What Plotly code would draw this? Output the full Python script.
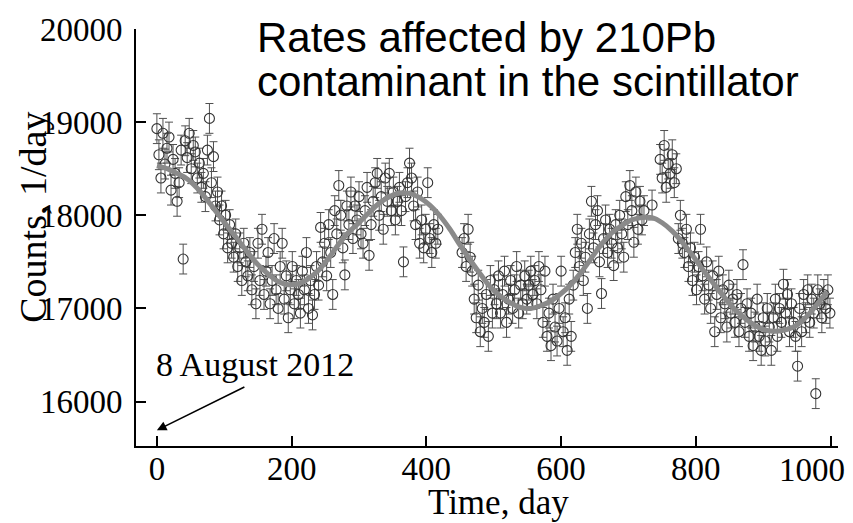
import plotly.graph_objects as go

days = [0, 3, 6, 9, 12, 15, 18, 21, 24, 27, 30, 33, 36, 39, 42, 45, 48, 51, 54, 57,
        60, 63, 66, 69, 72, 75, 78, 81, 84, 87, 90, 93, 96, 99, 102, 105, 108, 111, 114, 117,
        120, 123, 126, 129, 132, 135, 138, 141, 144, 147, 150, 153, 156, 159, 162, 165, 168, 171, 174, 177,
        180, 183, 186, 189, 192, 195, 198, 201, 204, 207, 210, 213, 216, 219, 222, 225, 228, 231, 234, 237,
        240, 243, 246, 249, 252, 255, 258, 261, 264, 267, 270, 273, 276, 279, 282, 285, 288, 291, 294, 297,
        300, 303, 306, 309, 312, 315, 318, 321, 324, 327, 330, 333, 336, 339, 342, 345, 348, 351, 354, 357,
        360, 363, 366, 369, 372, 375, 378, 381, 384, 387, 390, 393, 396, 399, 402, 405, 408, 411, 414, 417,
        453, 456, 459, 462, 465, 468, 471, 474, 477, 480, 483, 486, 489, 492, 495, 498,
        501, 504, 507, 510, 513, 516, 519, 522, 525, 528, 531, 534, 537, 540, 543, 546, 549, 552, 555,
        558, 561, 564, 567, 570, 573, 576, 579, 582, 585, 588, 591, 594, 597, 600, 603, 606, 609, 612, 615, 618,
        621, 624, 627, 630, 633, 636, 639, 642, 645, 648, 651, 654, 657, 660, 663, 666, 669, 672, 675, 678,
        681, 684, 687, 690, 693, 696, 699, 702, 705, 708, 711, 714, 717, 720, 723, 735,
        747, 750, 753, 756, 759, 762, 765, 768, 771, 774, 777, 780, 783, 786, 789, 792, 795, 798,
        801, 804, 807, 810, 813, 816, 819, 822, 825, 828, 831, 834, 837, 840, 843, 846, 849, 852, 855, 858,
        861, 864, 867, 870, 873, 876, 879, 882, 885, 888, 891, 894, 897, 900, 903, 906, 909, 912, 915, 918,
        921, 924, 927, 930, 933, 936, 939, 942, 945, 948, 951, 954, 957, 960, 963, 966, 969, 972, 975, 978,
        981, 984, 987, 990, 993, 996, 999]

counts = [18930, 18650, 18400, 18880, 18550, 18720, 18840, 18270, 18600, 18450, 18150, 18350, 18700, 17530, 18800, 18620, 18880, 18500, 18750, 18680,
          18400, 18560, 18300, 18450, 18200, 18700, 19040, 18350, 18630, 18100, 18250, 17950, 18100, 17800, 18000, 17650, 17900, 17700, 17550, 17800,
          17450, 17650, 17300, 17700, 17500, 17350, 17600, 17200, 17450, 17050, 17700, 17300, 17850, 17150, 17400, 17600, 17050, 17300, 17750, 17200,
          17000, 17450, 17700, 17100, 17350, 16900, 17200, 17450, 17050, 17300, 17150, 16950, 17400, 17200, 17600, 17000, 17300, 16930, 17150, 17450,
          17250, 17870, 17500, 17700, 17350, 17900, 17600, 17150, 18050, 17800, 18320, 18000, 17650, 17360, 18100, 17900, 18250, 17750, 18100, 17950,
          18200, 17800, 17700, 18050, 18300, 17570, 17900, 18150, 18350, 18450, 18000, 18200, 17850, 18400, 18150, 18450, 18050, 18250, 17950, 18150,
          18300, 18050, 17500, 18200, 18350, 18560, 18400, 18100, 17900, 18250, 17700, 17950, 17650, 17850, 18350, 17750, 17600, 17900, 17700, 17850,
          17600, 17750, 17450, 17850, 17550, 17400, 17100, 16900, 17250, 16750, 17000, 16850, 17150, 16700, 17300, 16950,
          17200, 17050, 17350, 16950, 17150, 17400, 16850, 17100, 17300, 17000, 17200, 17450, 16950, 17250, 17050, 17350, 17100, 17250, 17400,
          17150, 17300, 17050, 17450, 17200, 16850, 17400, 16700, 16950, 16600, 17100, 16800, 16650, 17000, 17400, 16750, 16900, 16550, 17100, 16700, 17250,
          17600, 17850, 17450, 17700, 17300, 17550, 17000, 17800, 18150, 17650, 17900, 18050, 17500, 17160, 17750, 17950, 17600, 17850, 17700, 17460,
          17900, 17650, 18000, 17800, 17550, 18200, 17900, 18320, 18050, 17710, 18250, 17850, 18150, 17950, 18050, 18110,
          18600, 18400, 18750, 18300, 18550, 18450, 18650, 18350, 18500, 17750, 18000, 17700, 17600, 17850, 17450, 17650, 17300, 17550,
          17200, 17450, 17850, 17350, 17100, 17500, 17250, 17000, 17350, 16750, 17150, 17400, 16900, 17200, 17050, 16800, 17250, 16950, 17100, 16850,
          17150, 16750, 17000, 17470, 16850, 17050, 16700, 16950, 16600, 16800, 17100, 16700, 16550, 16900, 16650, 17000, 16800, 16550, 16900, 17100,
          16700, 17000, 16850, 17260, 16950, 17150, 16750, 17050, 16850, 16700, 16380, 17000, 16750, 17150, 16900, 17200, 16850, 17100, 16950, 16085,
          17200, 17050, 16900, 17150, 17000, 17200, 16950]

ERR = 160

fit_days = [0, 15, 30, 45, 60, 75, 90, 105, 120, 135, 150, 165, 180, 195, 210, 225, 240, 255, 270, 285,
            300, 315, 330, 345, 360, 375, 390, 405, 420, 435, 450, 465, 480, 495, 510, 525, 540, 555, 570, 585,
            600, 615, 630, 645, 660, 675, 690, 705, 720, 735, 750, 765, 780, 795, 810, 825, 840, 855, 870, 885,
            900, 915, 930, 945, 960, 975, 995]
fit_counts = [18530, 18500, 18450, 18390, 18290, 18160, 18020, 17880, 17740, 17600, 17470, 17370, 17290, 17255, 17265, 17320, 17410, 17540, 17690, 17820,
              17920, 18030, 18130, 18200, 18240, 18235, 18190, 18110, 17995, 17850, 17680, 17520, 17370, 17230, 17130, 17060, 17010, 17000, 17030, 17080,
              17160, 17260, 17390, 17540, 17690, 17810, 17890, 17950, 17975, 17975, 17920, 17830, 17710, 17570, 17420, 17280, 17140, 17010, 16910, 16830,
              16775, 16755, 16765, 16800, 16880, 17000, 17180]

x_ticks = [0, 200, 400, 600, 800, 1000]
x_labels = ["0", "200", "400", "600", "800", ""]
y_ticks = [16000, 17000, 18000, 19000, 20000]

serif = "Liberation Serif"
sans = "Liberation Sans"

fig = go.Figure()
fig.add_trace(go.Scatter(
    x=days, y=counts, mode="markers",
    marker=dict(symbol="circle-open", size=10, color="#333333", line=dict(width=1.1)),
    error_y=dict(type="constant", value=ERR, color="#505050", thickness=1, width=4),
    showlegend=False, hoverinfo="skip"))
fig.add_trace(go.Scatter(
    x=fit_days, y=fit_counts, mode="lines", line=dict(color="#8a8a8a", width=5, shape="spline"),
    showlegend=False, hoverinfo="skip"))

fig.update_layout(
    width=853, height=523,
    margin=dict(l=136, r=15, t=24, b=77),
    paper_bgcolor="white", plot_bgcolor="white",
    font=dict(family=serif, size=33, color="black"),
    xaxis=dict(range=[-31, 1011], tickvals=x_ticks, ticktext=x_labels,
               showline=True, linecolor="black", linewidth=2, ticks="inside", ticklen=10,
               tickwidth=2, tickcolor="black", showgrid=False, zeroline=False,
               ticklabelstandoff=-8,
               tickfont=dict(family=serif, size=33)),
    yaxis=dict(range=[15523, 20000], tickvals=y_ticks, ticktext=[str(v) for v in y_ticks],
               showline=True, linecolor="black", linewidth=2, ticks="inside", ticklen=10,
               tickwidth=2, tickcolor="black", showgrid=False, zeroline=False,
               ticklabelstandoff=5,
               tickfont=dict(family=serif, size=33)),
)

def px(xp):
    return (xp - 136) / 702

def py(yp):
    return (446 - yp) / 422

annots = [
    dict(text="Rates affected by 210Pb", x=px(255), y=py(33), xanchor="left", yanchor="middle",
         font=dict(family=sans, size=42, color="black")),
    dict(text="contaminant in the scintillator", x=px(255), y=py(77), xanchor="left", yanchor="middle",
         font=dict(family=sans, size=42, color="black")),
    dict(text="8 August 2012", x=px(154), y=py(364), xanchor="left", yanchor="middle",
         font=dict(family=serif, size=34, color="black")),
    dict(text="Time, day", x=px(498), y=py(503), xanchor="center", yanchor="middle",
         font=dict(family=serif, size=35, color="black")),
    dict(text="Counts, 1/day", x=px(33), y=py(215), xanchor="center", yanchor="middle", textangle=-90,
         font=dict(family=serif, size=38, color="black")),
    dict(text="1000", x=px(812), y=py(470), xanchor="center", yanchor="middle",
         font=dict(family=serif, size=33, color="black")),
]
for a in annots:
    fig.add_annotation(xref="paper", yref="paper", showarrow=False, **a)

fig.add_annotation(xref="x", yref="y", x=0, y=15692, text="", showarrow=True,
                   ax=89, ay=-44, arrowhead=2, arrowsize=1.2, arrowwidth=1.6, arrowcolor="black")

fig.write_html("out.html")
